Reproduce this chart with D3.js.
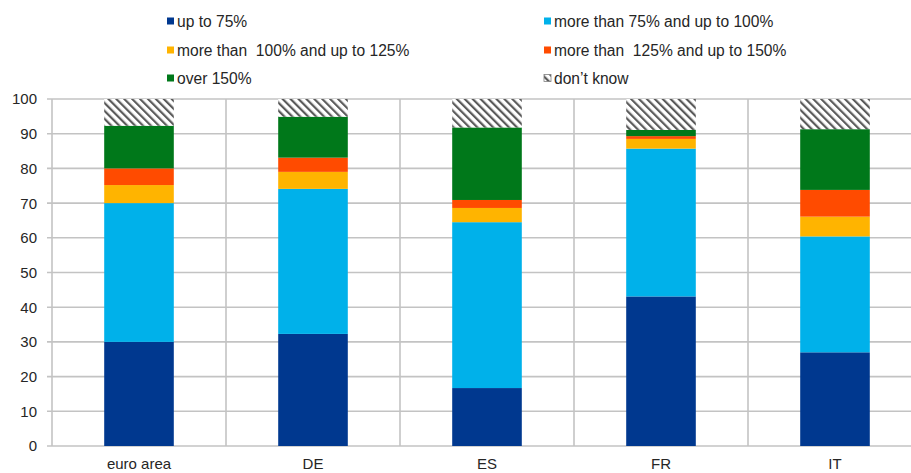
<!DOCTYPE html>
<html>
<head>
<meta charset="utf-8">
<script src="https://cdn.jsdelivr.net/npm/d3@7"></script>
<style>
  body { margin: 0; background: #fff; }
  svg { display: block; font-family: "Liberation Sans", Arial, sans-serif; }
</style>
</head>
<body>
<script>
// categories and series (shares in %)
const categories = ["euro area", "DE", "ES", "FR", "IT"];
const seriesNames = [
  "up to 75%",
  "more than 75% and up to 100%",
  "more than 100% and up to 125%",
  "more than 125% and up to 150%",
  "over 150%",
  "don\u2019t know"
];
const upTo75 = [30.0, 32.3, 16.7, 43.1, 27.0];
const from75to100 = [40.0, 41.8, 47.8, 42.6, 33.4];
const from100to125 = [5.2, 4.9, 4.1, 2.8, 5.7];
const from125to150 = [4.8, 4.1, 2.3, 0.8, 7.7];
const over150 = [12.3, 11.8, 20.9, 1.8, 17.5];
const dontKnow = [7.7, 5.1, 8.2, 8.9, 8.7];
const yTicks = [0, 10, 20, 30, 40, 50, 60, 70, 80, 90, 100];

const colors = ["#00388f", "#00b1ea", "#ffb400", "#ff4b00", "#00781a", "url(#hatch)"];

const w = 911;
const h = 473;
const margin = { left: 52, top: 99, bottom: 446 };

const svg = d3.select("body").append("svg")
  .attr("width", w)
  .attr("height", h);

// hatch pattern for "don't know"
const defs = svg.append("defs");
const pat = defs.append("pattern")
  .attr("id", "hatch")
  .attr("patternUnits", "userSpaceOnUse")
  .attr("width", 5.6)
  .attr("height", 5.6)
  .attr("patternTransform", "rotate(-45)");
pat.append("rect").attr("width", 5.6).attr("height", 5.6).attr("fill", "#fff");
pat.append("rect").attr("x", 0).attr("width", 2.2).attr("height", 5.6).attr("fill", "#5a5a5a");

// build stacked rows
const table = categories.map((c, i) => {
  const row = { cat: c };
  [upTo75, from75to100, from100to125, from125to150, over150, dontKnow]
    .forEach((arr, k) => { row["s" + k] = arr[i]; });
  return row;
});
const keys = seriesNames.map((d, k) => "s" + k);
const stacked = d3.stack().keys(keys)(table);

const xScale = d3.scaleBand()
  .domain(categories)
  .range([margin.left, 922])
  .padding(0);

const yScale = d3.scaleLinear()
  .domain([0, 100])
  .range([margin.bottom, margin.top]);

const gridColor = "#c3c3c3";

// horizontal gridlines + tick marks
svg.append("g")
  .selectAll("line")
  .data(yTicks)
  .enter()
  .append("line")
  .attr("x1", margin.left - 5)
  .attr("x2", w)
  .attr("y1", (d) => yScale(d))
  .attr("y2", (d) => yScale(d))
  .attr("stroke", gridColor)
  .attr("stroke-width", 1.6);

// vertical gridlines between categories
svg.append("g")
  .selectAll("line")
  .data(categories)
  .enter()
  .append("line")
  .attr("x1", (d) => xScale(d))
  .attr("x2", (d) => xScale(d))
  .attr("y1", margin.top)
  .attr("y2", margin.bottom)
  .attr("stroke", gridColor)
  .attr("stroke-width", 1.6);

// y labels
svg.append("g")
  .selectAll("text")
  .data(yTicks)
  .enter()
  .append("text")
  .attr("x", 37)
  .attr("y", (d) => yScale(d))
  .attr("dy", "0.36em")
  .attr("text-anchor", "end")
  .attr("font-size", 15)
  .attr("fill", "#262626")
  .text((d) => d);

// bars
const barW = xScale.bandwidth() * 0.4;
svg.append("g")
  .selectAll("g")
  .data(stacked)
  .enter()
  .append("g")
  .attr("fill", (d, i) => colors[i])
  .selectAll("rect")
  .data((d) => d)
  .enter()
  .append("rect")
  .attr("x", (d) => xScale(d.data.cat) + (xScale.bandwidth() - barW) / 2)
  .attr("width", barW)
  .attr("y", (d) => yScale(d[1]))
  .attr("height", (d) => yScale(d[0]) - yScale(d[1]));

// x labels
svg.append("g")
  .selectAll("text")
  .data(categories)
  .enter()
  .append("text")
  .attr("x", (d) => xScale(d) + xScale.bandwidth() / 2)
  .attr("y", 469)
  .attr("text-anchor", "middle")
  .attr("font-size", 15)
  .attr("fill", "#262626")
  .text((d) => d);

// legend, two columns
const legendX = [167, 544];
const legendY = [21, 50, 78];
const legend = svg.append("g")
  .selectAll("g")
  .data(seriesNames)
  .enter()
  .append("g")
  .attr("transform", (d, i) => "translate(" + legendX[i % 2] + "," + legendY[Math.floor(i / 2)] + ")");

legend.append("rect")
  .attr("x", 0)
  .attr("y", -3.5)
  .attr("width", 7)
  .attr("height", 7)
  .attr("fill", (d, i) => colors[i])
  .attr("stroke", (d, i) => (i === 5 ? "#7f7f7f" : "none"))
  .attr("stroke-width", 0.8);

legend.append("text")
  .attr("x", 10)
  .attr("y", 0)
  .attr("dy", "0.36em")
  .attr("font-size", 15.6)
  .attr("fill", "#262626")
  .style("white-space", "pre")
  .text((d) => d.replace("than 1", "than  1"));
</script>
</body>
</html>
